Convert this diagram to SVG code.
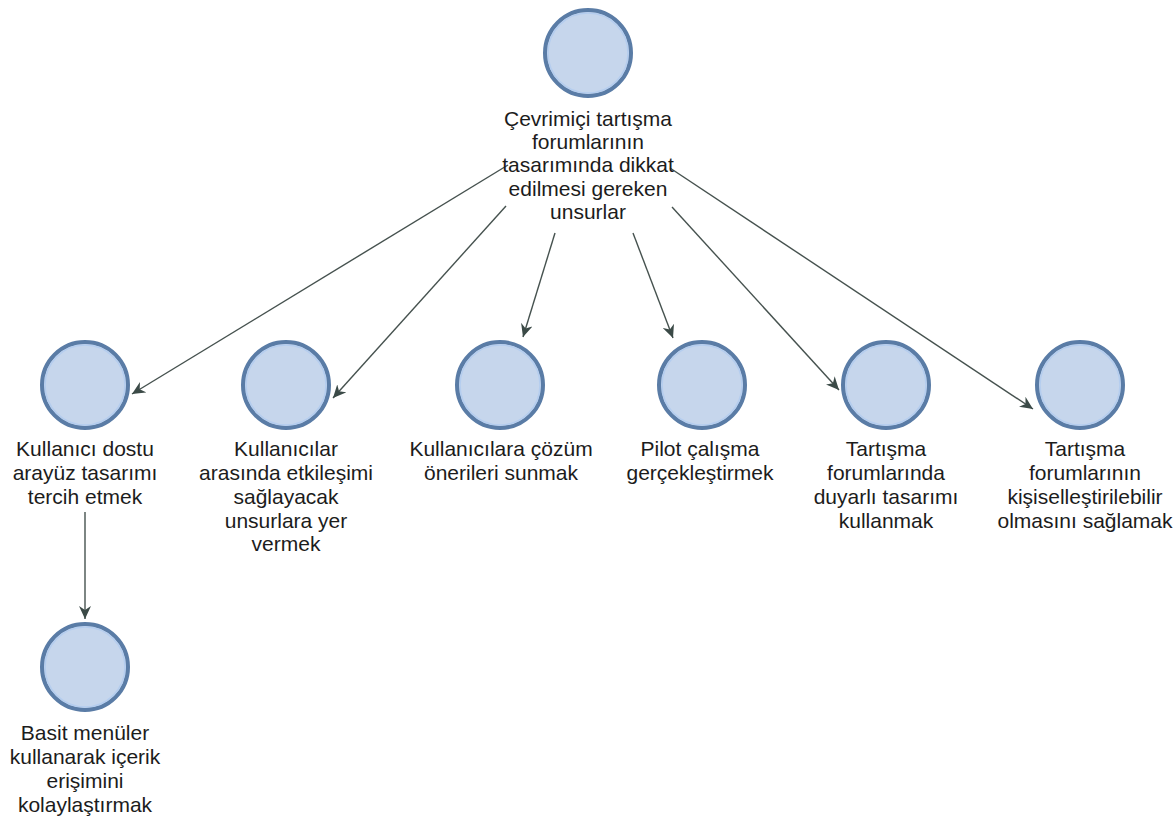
<svg xmlns="http://www.w3.org/2000/svg" width="1174" height="825" viewBox="0 0 1174 825">
<style>
.n circle.o{fill:#c6d6ec;stroke:#5a7ca6;stroke-width:4}
.n circle.i{fill:none;stroke:#b4cdef;stroke-width:1.5}
.n text{font-family:"Liberation Sans",Arial,sans-serif;font-size:21px;fill:#1c1c1c;text-anchor:middle}
.e line{stroke:#46524f;stroke-width:1.4;fill:none;marker-end:url(#arr)}
</style>
<defs>
<marker id="arr" markerUnits="userSpaceOnUse" markerWidth="14" markerHeight="12" refX="13" refY="6" orient="auto">
<path d="M0,0 L13,6 L0,12 L4,6 Z" fill="#3b4a47"/>
</marker>
</defs>
<rect width="1174" height="825" fill="#ffffff"/>
<g id="connectors" class="e">
<line x1="508" y1="165" x2="132" y2="394"/>
<line x1="506" y1="206" x2="333" y2="398"/>
<line x1="555" y1="233" x2="523" y2="337"/>
<line x1="633" y1="233" x2="673" y2="338"/>
<line x1="672" y1="207" x2="839" y2="390"/>
<line x1="670" y1="168" x2="1033" y2="409"/>
<line x1="85" y1="512" x2="85" y2="619"/>
</g>
<g id="n0" class="n">
<circle class="o" cx="588" cy="53" r="43"/><circle class="i" cx="588" cy="53" r="40"/>
<text x="588" y="126">Çevrimiçi tartışma</text>
<text x="588" y="149">forumlarının</text>
<text x="588" y="172">tasarımında dikkat</text>
<text x="588" y="196">edilmesi gereken</text>
<text x="588" y="219">unsurlar</text>
</g>
<g id="n1" class="n">
<circle class="o" cx="85" cy="385" r="43"/><circle class="i" cx="85" cy="385" r="40"/>
<text x="85" y="456">Kullanıcı dostu</text>
<text x="85" y="480">arayüz tasarımı</text>
<text x="85" y="504">tercih etmek</text>
</g>
<g id="n2" class="n">
<circle class="o" cx="286" cy="385" r="43"/><circle class="i" cx="286" cy="385" r="40"/>
<text x="286" y="456">Kullanıcılar</text>
<text x="286" y="480">arasında etkileşimi</text>
<text x="286" y="504">sağlayacak</text>
<text x="286" y="528">unsurlara yer</text>
<text x="286" y="551">vermek</text>
</g>
<g id="n3" class="n">
<circle class="o" cx="500" cy="385" r="43"/><circle class="i" cx="500" cy="385" r="40"/>
<text x="501" y="456">Kullanıcılara çözüm</text>
<text x="501" y="480">önerileri sunmak</text>
</g>
<g id="n4" class="n">
<circle class="o" cx="702" cy="385" r="43"/><circle class="i" cx="702" cy="385" r="40"/>
<text x="700" y="456">Pilot çalışma</text>
<text x="700" y="480">gerçekleştirmek</text>
</g>
<g id="n5" class="n">
<circle class="o" cx="886" cy="385" r="43"/><circle class="i" cx="886" cy="385" r="40"/>
<text x="886" y="456">Tartışma</text>
<text x="886" y="480">forumlarında</text>
<text x="886" y="504">duyarlı tasarımı</text>
<text x="886" y="528">kullanmak</text>
</g>
<g id="n6" class="n">
<circle class="o" cx="1080" cy="385" r="43"/><circle class="i" cx="1080" cy="385" r="40"/>
<text x="1085" y="456">Tartışma</text>
<text x="1085" y="480">forumlarının</text>
<text x="1085" y="504">kişiselleştirilebilir</text>
<text x="1085" y="528">olmasını sağlamak</text>
</g>
<g id="n7" class="n">
<circle class="o" cx="85" cy="667" r="43"/><circle class="i" cx="85" cy="667" r="40"/>
<text x="85" y="740">Basit menüler</text>
<text x="85" y="764">kullanarak içerik</text>
<text x="85" y="788">erişimini</text>
<text x="85" y="812">kolaylaştırmak</text>
</g>
</svg>
